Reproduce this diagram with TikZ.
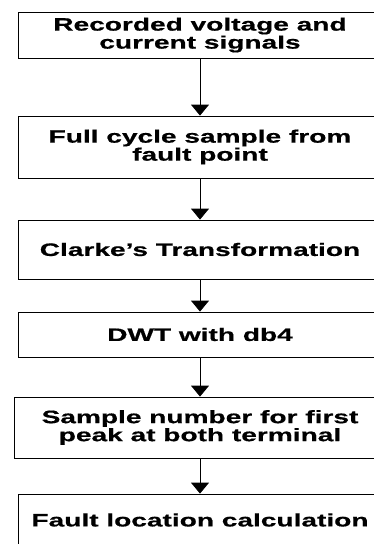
\documentclass[tikz,border=0pt]{standalone}
\usepackage{fontspec}
\newfontfamily\flowfont[FakeStretch=1.56,
  BoldFeatures={FakeBold=0.6}]{Liberation Sans}
\usetikzlibrary{arrows.meta}

\tikzset{
  stepbox/.style={draw=black, line width=0.8pt, rectangle, align=center,
    inner sep=0pt, font=\flowfont\bfseries\fontsize{18}{18}\selectfont},
  flowarrow/.style={draw=black, line width=0.8pt,
    -{Triangle[width=18pt,length=11pt]}}
}

\begin{document}
\begin{tikzpicture}[x=1pt,y=-1pt]
  \useasboundingbox (0,0) rectangle (374,544);

  % process steps, top to bottom
  \node[stepbox, minimum width=364pt, minimum height=46pt] (s1) at (200,35)
    {Recorded voltage and\\current signals};
  \node[stepbox, minimum width=364pt, minimum height=62pt] (s2) at (200,147)
    {Full cycle sample from\\fault point};
  \node[stepbox, minimum width=364pt, minimum height=59pt] (s3) at (200,249.5)
    {Clarke’s Transformation};
  \node[stepbox, minimum width=364pt, minimum height=45pt] (s4) at (200,334.5)
    {DWT with db4};
  \node[stepbox, minimum width=372pt, minimum height=61pt] (s5) at (200,427.5)
    {Sample number for first\\peak at both terminal};
  \node[stepbox, minimum width=364pt, minimum height=52pt] (s6) at (200,520)
    {Fault location calculation};

  % connectors
  \draw[flowarrow] (s1.south) -- (s2.north);
  \draw[flowarrow] (s2.south) -- (s3.north);
  \draw[flowarrow] (s3.south) -- (s4.north);
  \draw[flowarrow] (s4.south) -- (s5.north);
  \draw[flowarrow] (s5.south) -- (s6.north);
\end{tikzpicture}
\end{document}
